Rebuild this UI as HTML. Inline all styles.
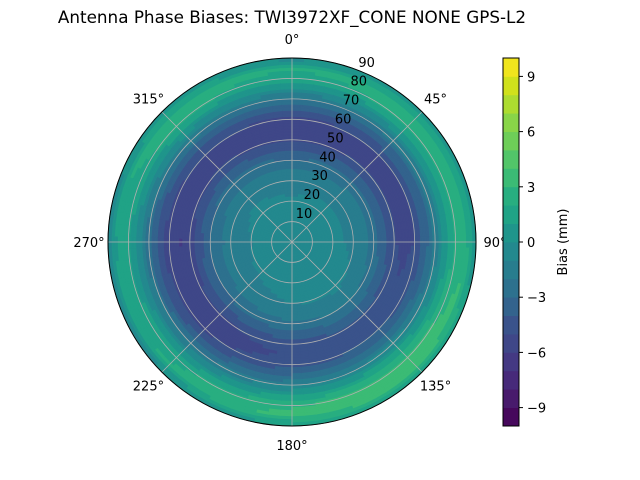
<!DOCTYPE html>
<html><head><meta charset="utf-8"><style>
body{margin:0;background:#fff;}
svg{display:block;font-family:"DejaVu Sans","Liberation Sans",sans-serif;}
</style></head><body>
<svg id="chart" width="640" height="480" viewBox="0 0 640 480">
<text x="292" y="23" font-size="16.8" text-anchor="middle">Antenna Phase Biases: TWI3972XF_CONE  NONE GPS-L2</text>
<g id="cells"></g>
<g id="grid"></g>
<g id="labels"></g>
<g id="cbar"></g>
</svg>
<script>
// data: radial profile of bias (mm) at zenith 0..90 every 5 deg
const zenithDeg = [0,5,10,15,20,25,30,35,40,45,50,55,60,65,70,75,80,85,90];
const profile = [-0.4,-0.4,-0.5,-0.6,-0.8,-1.0,-1.3,-1.8,-2.6,-3.8,-5.0,-5.5,-5.1,-3.8,-2.0,0.2,2.0,2.4,0.0];
// azimuthal modulation (scaled by zenith/90) at azimuth 0..315 every 45
const azimuthDeg = [0,45,90,135,180,225,270,315];
const azMod = [-0.4,0.2,0.2,1.6,1.0,-0.3,-0.9,0.2];
const ringTicks = [10,20,30,40,50,60,70,80,90];
const angleTicks = [0,45,90,135,180,225,270,315];
const cbarTicks = [-9,-6,-3,0,3,6,9];
const levelColors = ["#46085c","#481a6c","#472a7a","#443983","#3f4788","#3a538b","#33638d","#2d718e","#287d8e","#23898e","#1f958b","#20a386","#28ae80","#3bbb75","#52c569","#6ece58","#89d548","#addc30","#d0e11c","#f0e51d"];
const vmin=-10,vmax=10;
const cx=292,cy=242,R=184,NS="http://www.w3.org/2000/svg";
const rScale=z=>z/90*R;
function pt(az,z){const a=az*Math.PI/180;return [cx+rScale(z)*Math.sin(a),cy-rScale(z)*Math.cos(a)];}
function prof(z){const i=Math.min(Math.floor(z/5),zenithDeg.length-2);const t=(z-zenithDeg[i])/5;return profile[i]*(1-t)+profile[i+1]*t;}
function mod(az){az=((az%360)+360)%360;const i=Math.floor(az/45);const j=(i+1)%azimuthDeg.length;const t=(az-azimuthDeg[i])/45;return azMod[i]*(1-t)+azMod[j]*t;}
function val(az,z){return prof(z)+mod(az)*z/90;}
function colorFor(v){let k=Math.floor((v-vmin)/(vmax-vmin)*levelColors.length);k=Math.max(0,Math.min(levelColors.length-1,k));return levelColors[k];}
function mk(tag,attrs,parent){const e=document.createElementNS(NS,tag);for(const k in attrs)e.setAttribute(k,attrs[k]);parent.appendChild(e);return e;}
const cells=document.getElementById('cells');
mk('circle',{cx:cx,cy:cy,r:R,fill:colorFor(val(0,45))},cells);
const dA=4,dZ=1.5;
for(let az=0;az<360;az+=dA){for(let z=0;z<90;z+=dZ){
 const v=val(az+dA/2,z+dZ/2);const c=colorFor(v);
 const [x1,y1]=pt(az,z),[x2,y2]=pt(az+dA,z),[x3,y3]=pt(az+dA,z+dZ),[x4,y4]=pt(az,z+dZ);
 const p=mk('path',{d:`M${x1} ${y1}L${x2} ${y2}L${x3} ${y3}L${x4} ${y4}Z`,fill:c,stroke:c,'stroke-width':1.2,'stroke-linejoin':'round'},cells);
 
 
}}
const grid=document.getElementById('grid');
ringTicks.forEach(r=>{const c=mk('circle',{cx:cx,cy:cy,r:rScale(r),fill:'none',stroke:'#b0b0b0','stroke-width':0.8},grid);
 
 });
angleTicks.forEach(a=>{const [x,y]=pt(a,90);const l=mk('line',{x1:cx,y1:cy,x2:x,y2:y,stroke:'#b0b0b0','stroke-width':0.8},grid);
 
 });
const cover=mk('circle',{cx:cx,cy:cy,r:R+2,fill:'none',stroke:'#fff','stroke-width':3},grid);


const border=mk('circle',{cx:cx,cy:cy,r:R,fill:'none',stroke:'#000','stroke-width':1},grid);


const labels=document.getElementById('labels');
ringTicks.forEach(r=>{const a=22.5*Math.PI/180,d=rScale(r)+11;
 const t=mk('text',{x:cx+d*Math.sin(a),y:cy-d*Math.cos(a)+5,'font-size':13,'text-anchor':'middle'},labels);t.textContent=r;
 
 });
angleTicks.forEach(a=>{const rad=a*Math.PI/180,d=R+19;
 const t=mk('text',{x:cx+d*Math.sin(rad),y:cy-d*Math.cos(rad)+5,'font-size':13,'text-anchor':'middle'},labels);t.textContent=a+'°';
 
 });
const cb=document.getElementById('cbar');
const cbx=503,cbw=16,cbt=58,cbb=426;
const yC=v=>cbb-(v-vmin)/(vmax-vmin)*(cbb-cbt);
levelColors.forEach((c,i)=>{const v0=vmin+i*(vmax-vmin)/levelColors.length,v1=v0+(vmax-vmin)/levelColors.length;
 const r=mk('rect',{x:cbx,y:yC(v1),width:cbw,height:yC(v0)-yC(v1)+0.4,fill:c},cb);
 
 });
const cbo=mk('rect',{x:cbx,y:cbt,width:cbw,height:cbb-cbt,fill:'none',stroke:'#000','stroke-width':1},cb);


cbarTicks.forEach(v=>{const y=yC(v);mk('line',{x1:cbx+cbw,y1:y,x2:cbx+cbw+4,y2:y,stroke:'#000'},cb);
 const t=mk('text',{x:cbx+cbw+8,y:y+5,'font-size':13},cb);t.textContent=(v<0?'−'+(-v):v);
 
 });
const ct=mk('text',{x:0,y:0,'font-size':13,'text-anchor':'middle',transform:`translate(567,242) rotate(-90)`},cb);ct.textContent='Bias (mm)';


</script>
</body></html>
